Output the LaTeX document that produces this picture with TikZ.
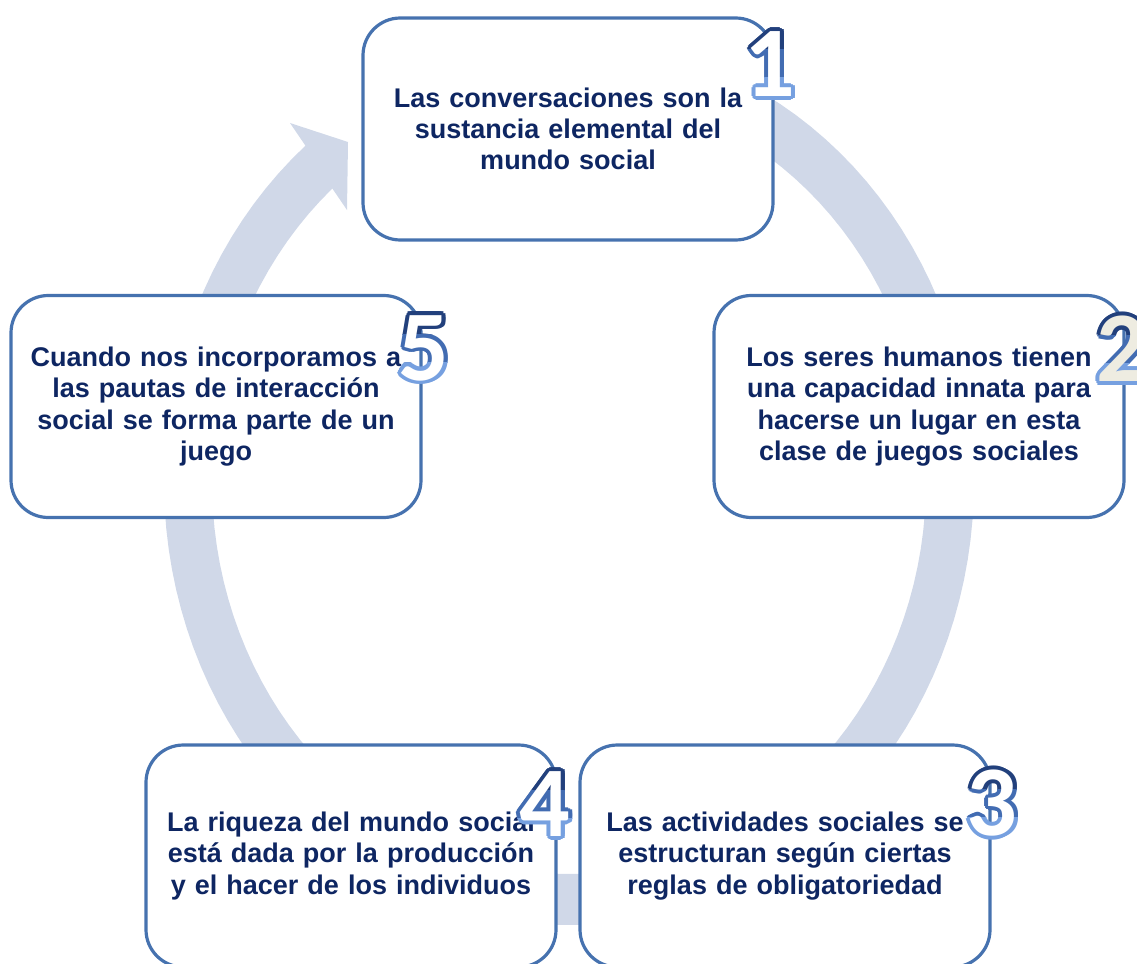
\documentclass[tikz,border=0pt]{standalone}
\usepackage{fontspec}
\setmainfont{Liberation Sans}
\newfontfamily\digitfont{Carlito}
\definecolor{ringc}{HTML}{D0D8E8}
\definecolor{boxline}{RGB}{70,114,175}
\definecolor{txt}{RGB}{14,38,98}
\definecolor{dtop}{RGB}{34,64,124}
\definecolor{dmid}{RGB}{66,108,178}
\definecolor{dbot}{RGB}{118,160,224}
\definecolor{cream}{HTML}{EEECE1}
\tikzset{
  box/.style={draw=boxline, line width=2.4pt, fill=white, rounded corners=28pt,
    minimum width=307.5pt, minimum height=166.5pt, inner sep=0pt,
    text width=292pt, align=center, text=txt,
    font=\bfseries\fontsize{20.25}{23.5}\selectfont},
  digit/.style={inner sep=0pt, font=\digitfont\bfseries\fontsize{75}{75}\selectfont},
  ring/.style={fill=ringc}
}
\begin{document}
\begin{tikzpicture}[x=0.75pt,y=-0.75pt]
\useasboundingbox (0,0) rectangle (1137,963);
% circular arrow
\fill[ring] plot[domain=-85:229.4, samples=120] ({569+405*cos(\x)},{482+443*sin(\x)})
  -- (290,123) -- (348,142) -- (347,210) -- (332,188)
  -- plot[domain=228.5:-85, samples=120] ({569+357*cos(\x)},{482+392*sin(\x)}) -- cycle;
% boxes
\node[box] (b1) at (568,129) {Las conversaciones son la\\ sustancia elemental del\\ mundo social};
\node[box] (b2) at (919,406.5) {Los seres humanos tienen\\ una capacidad innata para\\ hacerse un lugar en esta\\ clase de juegos sociales};
\node[box] (b3) at (785,856) {Las actividades sociales se\\ estructuran según ciertas\\ reglas de obligatoriedad};
\node[box] (b4) at (351,856) {La riqueza del mundo social\\ está dada por la producción\\ y el hacer de los individuos};
\node[box] (b5) at (216,406.5) {Cuando nos incorporamos a\\ las pautas de interacción\\ social se forma parte de un\\ juego};
% numbers with shaded outline
\foreach \d/\px/\py/\fc in {1/770/64/white, 2/1122/349/cream, 3/992/803/white, 4/545/804/white, 5/424/348/white}{
  \foreach \k/\cc/\ya/\yb in {1/dtop/-60/-14, 2/dmid/-14/14, 3/dbot/14/60}{
    \begin{scope}
      \clip ({\px-70},{\py+\ya}) rectangle ({\px+70},{\py+\yb});
      \foreach \a in {0,30,...,330}{
        \node[digit, text=\cc, xshift={2.9pt*cos(\a)}, yshift={2.9pt*sin(\a)}] (d\d b\k s\a) at (\px,\py) {\d};
      }
    \end{scope}
  }
  \node[digit, text=\fc] (d\d) at (\px,\py) {\d};
}
\end{tikzpicture}
\end{document}
